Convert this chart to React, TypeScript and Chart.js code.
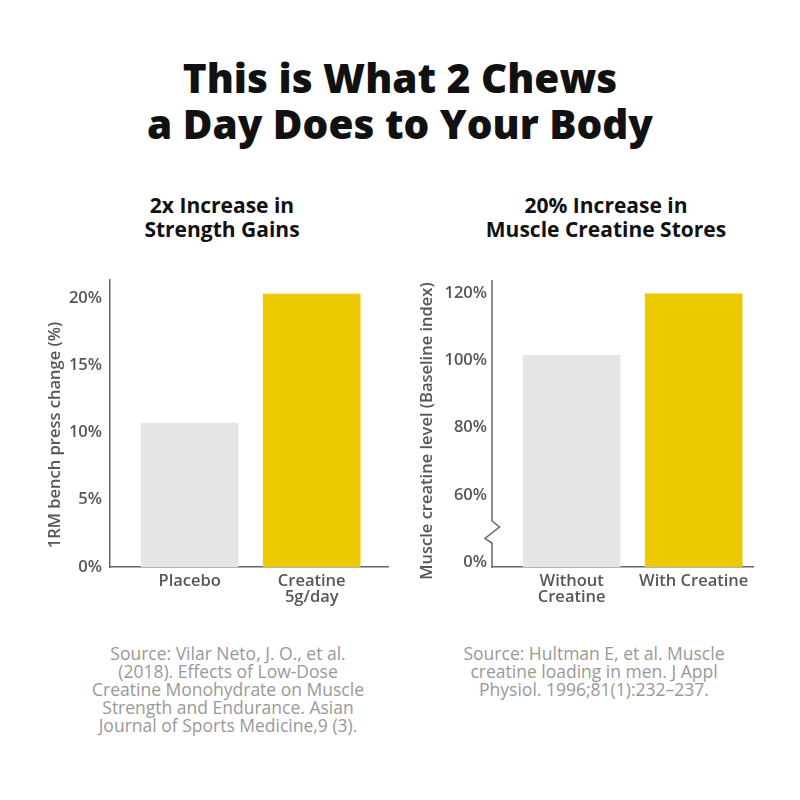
import { useEffect, useRef } from 'react';
import { Chart, registerables } from 'chart.js';

Chart.register(...registerables);

// ---------- data ----------
const TITLE_LINES = ['This is What 2 Chews', 'a Day Does to Your Body'];

const LEFT_SUBTITLE = ['2x Increase in', 'Strength Gains'];
const LEFT_CATEGORIES = [['Placebo'], ['Creatine', '5g/day']];
const LEFT_VALUES = [10.7, 20.3];
const LEFT_TICK_VALUES = [0, 5, 10, 15, 20];
const LEFT_TICK_LABELS = ['0%', '5%', '10%', '15%', '20%'];
const LEFT_AXIS_TITLE = '1RM bench press change (%)';
const LEFT_SOURCE = [
  'Source: Vilar Neto, J. O., et al.',
  '(2018). Effects of Low-Dose',
  'Creatine Monohydrate on Muscle',
  'Strength and Endurance. Asian',
  'Journal of Sports Medicine,9 (3).',
];

const RIGHT_SUBTITLE = ['20% Increase in', 'Muscle Creatine Stores'];
const RIGHT_CATEGORIES = [['Without', 'Creatine'], ['With Creatine']];
const RIGHT_VALUES = [101.5, 119.8];
const RIGHT_TICK_VALUES = [40, 60, 80, 100, 120];
const RIGHT_TICK_LABELS = ['0%', '60%', '80%', '100%', '120%'];
const RIGHT_AXIS_TITLE = 'Muscle creatine level (Baseline index)';
const RIGHT_SOURCE = [
  'Source: Hultman E, et al. Muscle',
  'creatine loading in men. J Appl',
  'Physiol. 1996;81(1):232\u2013237.',
];

const CATEGORY_POSITIONS = [0, 1];
const BAR_COLORS = ['#E5E5E5', '#EDCA00'];

// ---------- styles ----------
const FONT = "'Open Sans', 'Noto Sans', sans-serif";
const AXIS_COLOR = '#666666';
const TICK_COLOR = '#575757';

const sideTitlePlugin = {
  id: 'sideTitle',
  afterDraw(chart: any, _args: any, opts: any) {
    if (!opts || !opts.text) return;
    const ctx = chart.ctx;
    ctx.save();
    ctx.translate(opts.x, opts.y);
    ctx.rotate(-Math.PI / 2);
    ctx.font = `600 ${opts.size}px ${FONT}`;
    ctx.fillStyle = opts.color;
    ctx.textAlign = 'center';
    ctx.textBaseline = 'middle';
    ctx.fillText(opts.text, 0, 0);
    ctx.restore();
  },
};

const brokenAxisPlugin = {
  id: 'brokenAxis',
  afterDraw(chart: any, _args: any, opts: any) {
    if (!opts || !opts.enabled) return;
    const { left, top, bottom } = chart.chartArea;
    const yb = chart.scales.y.getPixelForValue(opts.value);
    const ctx = chart.ctx;
    ctx.save();
    ctx.strokeStyle = AXIS_COLOR;
    ctx.lineWidth = 1.5;
    ctx.lineJoin = 'miter';
    ctx.beginPath();
    ctx.moveTo(left, top);
    ctx.lineTo(left, yb - 11);
    ctx.lineTo(left + 7.5, yb - 5);
    ctx.lineTo(left - 7, yb + 6.5);
    ctx.lineTo(left, yb + 11);
    ctx.lineTo(left, bottom + 0.75);
    ctx.stroke();
    ctx.restore();
  },
};

type PanelSpec = {
  categories: string[][];
  values: number[];
  tickValues: number[];
  tickLabels: string[];
  axisTitle: string;
  xMin: number;
  xMax: number;
  yMin: number;
  yMax: number;
  yAxisWidth: number;
  rightPad: number;
  tickPad: number;
  titleX: number;
  titleY: number;
  broken: boolean;
  breakValue: number;
};

function makeConfig(p: PanelSpec): any {
  const tickFont = { family: FONT, size: 16.5, weight: '600' as any, lineHeight: 1 };
  return {
    type: 'bar',
    data: {
      datasets: [
        {
          data: CATEGORY_POSITIONS.map((x, i) => ({ x, y: p.values[i] })),
          backgroundColor: BAR_COLORS,
          borderWidth: 0,
          barThickness: 97,
        },
      ],
    },
    options: {
      animation: false,
      responsive: false,
      maintainAspectRatio: false,
      devicePixelRatio: 1,
      layout: { padding: { top: 20, right: p.rightPad, left: 0, bottom: 0 } },
      plugins: {
        legend: { display: false },
        tooltip: { enabled: false },
        sideTitle: { text: p.axisTitle, x: p.titleX, y: p.titleY, size: 16.5, color: TICK_COLOR },
        brokenAxis: { enabled: p.broken, value: p.breakValue },
      },
      scales: {
        x: {
          type: 'linear',
          offset: false,
          min: p.xMin,
          max: p.xMax,
          afterBuildTicks: (s: any) => {
            s.ticks = CATEGORY_POSITIONS.map((v) => ({ value: v }));
          },
          afterFit: (s: any) => {
            s.height = 53;
          },
          ticks: {
            autoSkip: false,
            maxRotation: 0,
            padding: 6,
            color: TICK_COLOR,
            font: tickFont,
            callback: (_v: any, i: number) => p.categories[i],
          },
          grid: { display: false, drawTicks: false, offset: false },
          border: { display: true, color: AXIS_COLOR, width: 1.5 },
        },
        y: {
          type: 'linear',
          min: p.yMin,
          max: p.yMax,
          afterBuildTicks: (s: any) => {
            s.ticks = p.tickValues.map((v) => ({ value: v }));
          },
          afterFit: (s: any) => {
            s.width = p.yAxisWidth;
          },
          ticks: {
            autoSkip: false,
            padding: p.tickPad,
            color: TICK_COLOR,
            font: tickFont,
            callback: (_v: any, i: number) => p.tickLabels[i],
          },
          grid: { display: false, drawTicks: false },
          border: { display: !p.broken, color: AXIS_COLOR, width: 1.5 },
        },
      },
    },
    plugins: [sideTitlePlugin, brokenAxisPlugin],
  };
}

const LEFT_PANEL: PanelSpec = {
  categories: LEFT_CATEGORIES,
  values: LEFT_VALUES,
  tickValues: LEFT_TICK_VALUES,
  tickLabels: LEFT_TICK_LABELS,
  axisTitle: LEFT_AXIS_TITLE,
  xMin: -0.653,
  xMax: 1.625,
  yMin: 0,
  yMax: 21.35,
  yAxisWidth: 110,
  rightPad: 12,
  tickPad: 8,
  titleX: 55,
  titleY: 175,
  broken: false,
  breakValue: 0,
};

const RIGHT_PANEL: PanelSpec = {
  categories: RIGHT_CATEGORIES,
  values: RIGHT_VALUES,
  tickValues: RIGHT_TICK_VALUES,
  tickLabels: RIGHT_TICK_LABELS,
  axisTitle: RIGHT_AXIS_TITLE,
  xMin: -0.653,
  xMax: 1.486,
  yMin: 38.6,
  yMax: 123.9,
  yAxisWidth: 92,
  rightPad: 47,
  tickPad: 5,
  titleX: 27,
  titleY: 171,
  broken: true,
  breakValue: 49,
};

function BarPanel({ spec, left }: { spec: PanelSpec; left: number }) {
  const ref = useRef<HTMLCanvasElement>(null);
  useEffect(() => {
    if (!ref.current) return;
    const chart = new Chart(ref.current, makeConfig(spec));
    return () => chart.destroy();
  }, [spec]);
  return (
    <canvas
      ref={ref}
      width={400}
      height={360}
      style={{ position: 'absolute', left, top: 260, width: 400, height: 360 }}
    />
  );
}

function Lines({ lines }: { lines: string[] }) {
  return (
    <>
      {lines.map((l, i) => (
        <div key={i}>{l}</div>
      ))}
    </>
  );
}

export default function App() {
  return (
    <div
      style={{
        position: 'absolute',
        left: 0,
        top: 0,
        width: 800,
        height: 800,
        background: '#ffffff',
        fontFamily: FONT,
        overflow: 'hidden',
      }}
    >
      <div
        style={{
          position: 'absolute',
          left: 0,
          top: 55,
          width: 800,
          textAlign: 'center',
          fontSize: 40.5,
          fontWeight: 800,
          lineHeight: '46px',
          color: '#111111',
        }}
      >
        <Lines lines={TITLE_LINES} />
      </div>

      <div
        style={{
          position: 'absolute',
          left: 72,
          top: 193,
          width: 300,
          textAlign: 'center',
          fontSize: 21,
          fontWeight: 700,
          lineHeight: '24px',
          color: '#111111',
        }}
      >
        <Lines lines={LEFT_SUBTITLE} />
      </div>
      <div
        style={{
          position: 'absolute',
          left: 456,
          top: 193,
          width: 300,
          textAlign: 'center',
          fontSize: 21,
          fontWeight: 700,
          lineHeight: '24px',
          color: '#111111',
        }}
      >
        <Lines lines={RIGHT_SUBTITLE} />
      </div>

      <BarPanel spec={LEFT_PANEL} left={0} />
      <BarPanel spec={RIGHT_PANEL} left={400} />

      <div
        style={{
          position: 'absolute',
          left: 53,
          top: 644,
          width: 350,
          textAlign: 'center',
          fontSize: 17.5,
          fontWeight: 400,
          lineHeight: '18px',
          color: '#999999',
        }}
      >
        <Lines lines={LEFT_SOURCE} />
      </div>
      <div
        style={{
          position: 'absolute',
          left: 419,
          top: 644,
          width: 350,
          textAlign: 'center',
          fontSize: 17.5,
          fontWeight: 400,
          lineHeight: '18px',
          color: '#999999',
        }}
      >
        <Lines lines={RIGHT_SOURCE} />
      </div>
    </div>
  );
}
